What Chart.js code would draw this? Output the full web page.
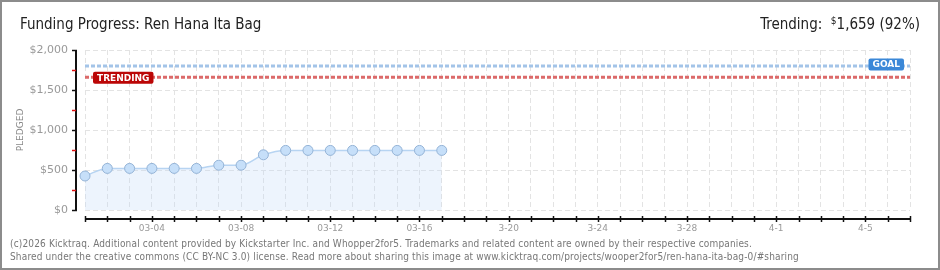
<!DOCTYPE html>
<html>
<head>
<meta charset="utf-8">
<script src="https://cdn.jsdelivr.net/npm/chart.js@4.4.1/dist/chart.umd.min.js"></script>
<style>
  html, body { margin: 0; padding: 0; background: #fff; }
  #frame { position: relative; width: 940px; height: 270px; box-sizing: border-box;
           border: 2px solid #8c8c8c; overflow: hidden; }
  #c { position: absolute; left: -2px; top: -2px; }
  .title { position: absolute; top: 13px; font-family: 'Liberation Sans Narrow', 'DejaVu Sans Condensed', sans-serif;
           font-size: 15px; color: #222; white-space: nowrap; }
  #ttl { left: 18px; }
  #trend { right: 18px; }
  #trend sup { font-size: 10px; vertical-align: 5px; }
  .foot { position: absolute; left: 8px; font-family: 'DejaVu Sans Condensed', sans-serif; font-size: 10px;
          letter-spacing: 0.15px; color: #777; white-space: nowrap; }
</style>
</head>
<body>
<div id="frame">
  <canvas id="c" width="940" height="270"></canvas>
  <div class="title" id="ttl">Funding Progress: Ren Hana Ita Bag</div>
  <div class="title" id="trend">Trending:&nbsp; <sup>$</sup>1,659 (92%)</div>
  <div class="foot" style="top:236px">(c)2026 Kicktraq. Additional content provided by Kickstarter Inc. and Whopper2for5. Trademarks and related content are owned by their respective companies.</div>
  <div class="foot" style="top:249px">Shared under the creative commons (CC BY-NC 3.0) license. Read more about sharing this image at www.kicktraq.com/projects/wooper2for5/ren-hana-ita-bag-0/#sharing</div>
</div>
<script>
// ── data ──
const DAYS = ['03-01','03-02','03-03','03-04','03-05','03-06','03-07','03-08','03-09','03-10',
              '03-11','03-12','03-13','03-14','03-15','03-16','03-17','03-18','03-19','03-20',
              '03-21','03-22','03-23','03-24','03-25','03-26','03-27','03-28','03-29','03-30',
              '03-31','04-01','04-02','04-03','04-04','04-05','04-06','04-07'];
const PLEDGED = [425, 520, 520, 520, 520, 520, 560, 560, 690, 745, 745, 745, 745, 745, 745, 745, 745];
const SHOWN_DAYS  = ['03-04','03-08','03-12','03-16','03-20','03-24','03-28','04-01','04-05'];
const TICK_LABELS = ['03-04','03-08','03-12','03-16','3-20','3-24','3-28','4-1','4-5'];
const GOAL = 1800;
const TRENDING = 1659;

const GRID = '#e3e3e3';
const AXIS_GAP = 9;

// axis lines, tick marks, badges (positions come from the scales)
const axesPlugin = {
  id: 'kt',
  afterDatasetsDraw(chart) {
    const { ctx, chartArea: a, scales: { x, y } } = chart;
    ctx.save();
    // y axis
    const ax = a.left - AXIS_GAP;
    ctx.strokeStyle = '#111'; ctx.lineWidth = 2;
    ctx.beginPath(); ctx.moveTo(ax, y.getPixelForValue(2000)); ctx.lineTo(ax, y.getPixelForValue(0)); ctx.stroke();
    y.ticks.forEach(t => {
      const py = Math.round(y.getPixelForValue(t.value)) + 0.5;
      const major = t.value % 500 === 0;
      ctx.strokeStyle = major ? '#111' : '#e01010'; ctx.lineWidth = 1.5;
      ctx.beginPath(); ctx.moveTo(ax - 4, py); ctx.lineTo(ax + (major ? 1 : 0), py); ctx.stroke();
    });
    // x axis
    const ay = a.bottom + AXIS_GAP;
    ctx.strokeStyle = '#111'; ctx.lineWidth = 2;
    ctx.beginPath(); ctx.moveTo(x.getPixelForValue(0), ay); ctx.lineTo(x.getPixelForValue(DAYS.length - 1), ay); ctx.stroke();
    ctx.lineWidth = 1.5;
    x.ticks.forEach((t, i) => {
      const px = Math.round(x.getPixelForTick(i)) + 0.5;
      ctx.beginPath(); ctx.moveTo(px, ay - 3); ctx.lineTo(px, ay + 3); ctx.stroke();
    });
    // badges
    const badge = (text, color, left, cy, right) => {
      ctx.font = 'bold 9px "DejaVu Sans"';
      const w = ctx.measureText(text).width + 8, h = 12;
      const bx = right ? left - w : left;
      ctx.fillStyle = color;
      ctx.beginPath(); ctx.roundRect(bx, cy - h / 2, w, h, 2); ctx.fill();
      ctx.fillStyle = '#fff'; ctx.textBaseline = 'middle'; ctx.textAlign = 'left';
      ctx.fillText(text, bx + 4, cy + 0.5);
    };
    badge('GOAL', '#3b88d8', a.right - 6, y.getPixelForValue(GOAL) - 1.5, true);
    badge('TRENDING', '#bb0606', a.left + 8, y.getPixelForValue(TRENDING) + 0.5, false);
    ctx.restore();
  }
};

new Chart(document.getElementById('c'), {
  type: 'line',
  data: {
    labels: DAYS,
    datasets: [
      {
        data: PLEDGED,
        borderColor: '#b7d4f2', borderWidth: 1.5,
        backgroundColor: 'rgba(196,220,247,0.3)', fill: 'origin',
        cubicInterpolationMode: 'monotone',
        pointRadius: 5, pointBackgroundColor: '#c6dff9', pointBorderColor: '#94b3d6', pointBorderWidth: 1,
        order: 3
      },
      {
        data: [{ x: DAYS[0], y: GOAL }, { x: DAYS[DAYS.length - 1], y: GOAL }],
        borderColor: '#a3c4e8', borderWidth: 3, borderDash: [4, 2], pointRadius: 0, fill: false, order: 1
      },
      {
        data: [{ x: DAYS[0], y: TRENDING }, { x: DAYS[DAYS.length - 1], y: TRENDING }],
        borderColor: '#dc6a6a', borderWidth: 3, borderDash: [4, 2], pointRadius: 0, fill: false, order: 2
      }
    ]
  },
  options: {
    responsive: false, animation: false, devicePixelRatio: 1,
    layout: { padding: { top: 50, right: 30, left: 0, bottom: 0 } },
    plugins: { legend: { display: false }, tooltip: { enabled: false } },
    scales: {
      x: {
        type: 'category',
        afterFit: s => { s.height = 60; },
        grid: { color: GRID, drawTicks: false },
        border: { display: false, dash: [5, 3] },
        ticks: {
          autoSkip: false, maxRotation: 0, padding: 13,
          color: '#999', font: { family: 'DejaVu Sans', size: 9 },
          callback: (v, i) => {
            const k = SHOWN_DAYS.indexOf(DAYS[i]);
            return k >= 0 ? TICK_LABELS[k] : '';
          }
        }
      },
      y: {
        min: 0, max: 2000,
        afterFit: s => { s.width = 85; },
        grid: { color: c => (c.tick && c.tick.value % 500 === 0) ? GRID : 'rgba(0,0,0,0)', drawTicks: false },
        border: { display: false, dash: [5, 3] },
        ticks: {
          stepSize: 250, padding: 17,
          color: '#999', font: { family: 'DejaVu Sans', size: 11 },
          callback: v => v % 500 === 0 ? '$' + v.toLocaleString('en-US') : ''
        },
        title: {
          display: true, text: 'PLEDGED', color: '#888',
          font: { family: 'DejaVu Sans', size: 9 }, padding: { top: 15, bottom: 0 }
        }
      }
    }
  },
  plugins: [axesPlugin]
});
</script>
</body>
</html>
